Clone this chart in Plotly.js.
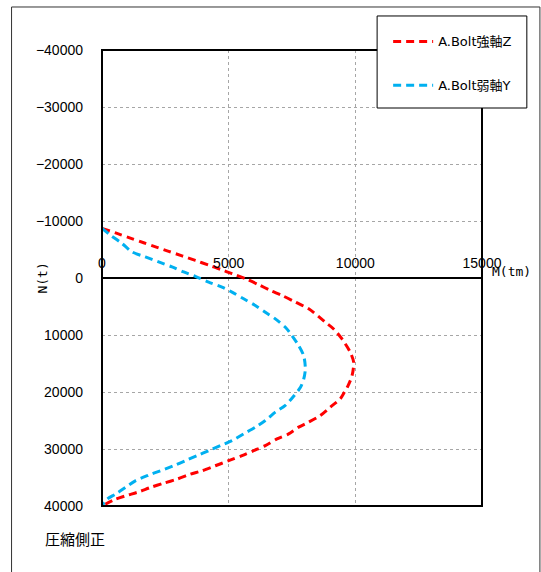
<!DOCTYPE html>
<html>
<head>
<meta charset="utf-8">
<script src="https://cdn.plot.ly/plotly-3.0.1.min.js"></script>
<style>
html,body{margin:0;padding:0;background:#fff;}
#chart{width:541px;height:572px;}
</style>
</head>
<body>
<div id="chart"></div>
<script>
// Strong axis Z (red): M (tm) vs N (t)
const strongM = [0, 592, 1119, 1645, 2171, 2632, 3158, 3684, 4211, 4671, 5132, 5658, 6184, 6645, 7105, 7632, 8158, 8816, 9145, 9474, 9803, 9934, 9868, 9700, 9560, 9408, 9013, 8618, 8158, 7763, 7368, 6908, 6447, 5987, 5526, 5000, 4474, 3947, 3487, 2961, 2434, 1908, 1447, 921, 461, 0];
const strongN = [-8700, -7820, -6990, -6180, -5380, -4680, -3880, -3080, -2260, -1520, -760, 120, 1180, 2180, 3060, 4230, 5410, 7760, 8940, 10700, 13050, 14820, 17170, 19000, 20100, 21180, 22650, 24120, 25290, 26170, 27350, 28230, 29410, 30290, 31170, 32050, 32940, 33820, 34410, 35290, 36000, 36760, 37520, 38230, 38930, 40000];
// Weak axis Y (blue): M (tm) vs N (t)
const weakM = [0, 329, 789, 1184, 1711, 2237, 2763, 3224, 3684, 4211, 4737, 5132, 5592, 6053, 6448, 6842, 7237, 7500, 7763, 7961, 8026, 7961, 7829, 7590, 7237, 6842, 6447, 6053, 5592, 5132, 4671, 4211, 3750, 3289, 2829, 2303, 1842, 1316, 921, 526, 197, 0];
const weakN = [-8700, -7530, -6060, -4590, -3700, -2820, -1940, -1060, -290, 710, 1590, 2470, 3650, 4820, 6000, 7170, 8640, 10110, 11880, 13640, 15990, 17760, 19230, 20600, 22350, 23530, 25000, 26170, 27350, 28530, 29410, 30290, 31170, 32050, 32940, 33820, 34580, 35580, 36760, 37930, 38820, 40000];

const seriesNames = ['A.Bolt強軸Z', 'A.Bolt弱軸Y'];
const xTicks = [0, 5000, 10000, 15000];
const yTicks = [-40000, -30000, -20000, -10000, 0, 10000, 20000, 30000, 40000];

const fontFam = 'Liberation Sans, Arial, Noto Sans CJK JP, sans-serif';

const traces = [
  {x: strongM, y: strongN, name: seriesNames[0], mode: 'lines', legendgroup: 'a',
   line: {color: '#ff0000', width: 3, dash: '8px,5px', shape: 'spline', smoothing: 0.8}},
  {x: weakM, y: weakN, name: seriesNames[1], mode: 'lines', legendgroup: 'b',
   line: {color: '#00b0f0', width: 3, dash: '8px,5px', shape: 'spline', smoothing: 0.8}}
];

const layout = {
  width: 541, height: 572,
  margin: {l: 101.5, r: 59, t: 50, b: 66},
  paper_bgcolor: '#ffffff', plot_bgcolor: '#ffffff',
  font: {family: fontFam, size: 14, color: '#000'},
  showlegend: true,
  legend: {
    x: 0.753, y: 1.0516, xanchor: 'left', yanchor: 'top',
    bgcolor: 'rgba(0,0,0,0)', borderwidth: 0,
    traceorder: 'grouped', tracegroupgap: 24,
    font: {family: 'DejaVu Sans, Noto Sans CJK JP, sans-serif', size: 13, color: '#000'},
    itemwidth: 40
  },
  xaxis: {
    range: [0, 15000], tickvals: xTicks, ticktext: xTicks.map(String),
    anchor: 'free', position: 0.5, side: 'top',
    showgrid: true, gridcolor: '#a6a6a6', griddash: 'dot', gridwidth: 1,
    zeroline: false, showline: false, ticks: '', ticklabelstandoff: 7,
    tickfont: {size: 14}, fixedrange: true
  },
  yaxis: {
    range: [40000, -40000], tickvals: yTicks, ticktext: yTicks.map(v => v < 0 ? '\u2212' + Math.abs(v) : String(v)),
    showgrid: true, gridcolor: '#a6a6a6', griddash: 'dot', gridwidth: 1,
    zeroline: true, zerolinecolor: '#000', zerolinewidth: 1.5,
    showline: false, ticks: '', ticklabelstandoff: 18,
    tickfont: {size: 14},
    fixedrange: true
  },
  shapes: [
    {type: 'rect', xref: 'paper', yref: 'paper', x0: 0, x1: 1, y0: 0, y1: 1,
     line: {color: '#000', width: 2}, layer: 'above'},
    {type: 'rect', xref: 'paper', yref: 'paper', x0: -0.238, x1: 1.1524, y0: -0.2, y1: 1.0943,
     line: {color: '#333', width: 1}, layer: 'above'},
    {type: 'rect', xref: 'paper', yref: 'paper', x0: 0.724, x1: 1.118, y0: 0.8728, y1: 1.0746,
     line: {color: '#000', width: 1}, fillcolor: '#ffffff', layer: 'above'}
  ],
  annotations: [
    {text: 'N(t)', xref: 'paper', yref: 'paper', x: -0.159, y: 0.5, xanchor: 'center', yanchor: 'middle',
     textangle: -90, showarrow: false, font: {family: 'DejaVu Sans Mono, Noto Sans CJK JP, monospace', size: 13}},
    {text: 'M(tm)', xref: 'paper', yref: 'paper', x: 1.021, y: 0.515, xanchor: 'left', yanchor: 'middle',
     showarrow: false, font: {family: 'DejaVu Sans Mono, Noto Sans CJK JP, monospace', size: 13}},
    {text: '圧縮側正', xref: 'paper', yref: 'paper', x: -0.156, y: -0.072, xanchor: 'left', yanchor: 'middle',
     showarrow: false, font: {family: 'Noto Sans CJK JP, sans-serif', size: 15}}
  ]
};

Plotly.newPlot('chart', traces, layout, {displayModeBar: false, staticPlot: true});
</script>
</body>
</html>
